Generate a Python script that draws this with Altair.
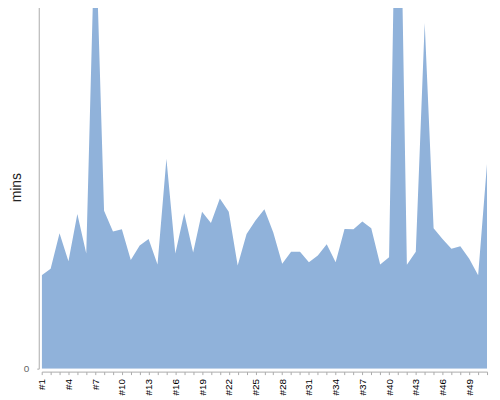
import altair as alt
import pandas as pd

runs = [f"#{i}" for i in range(1, 52)]
mins = [25.7, 27.5, 37.3, 29.6, 42.6, 31.7, 125.0, 43.5, 37.8, 38.4,
        29.9, 33.9, 35.7, 28.7, 57.8, 31.7, 42.8, 32.0, 43.2, 40.1,
        46.9, 43.2, 28.4, 37.1, 40.8, 43.9, 37.5, 28.9, 32.2, 32.2,
        29.3, 31.2, 34.3, 29.3, 38.5, 38.4, 40.5, 38.7, 28.7, 30.7,
        175.0, 28.6, 32.2, 95.2, 38.7, 35.7, 33.0, 33.7, 30.3, 25.7,
        56.5]

df = pd.DataFrame({"run": runs, "mins": mins})

chart = alt.Chart(df).mark_area(color="#90b2da", clip=True, opacity=1).encode(
    x=alt.X("run:O", sort=runs,
            scale=alt.Scale(type="point", padding=0),
            axis=alt.Axis(title=None, labelAngle=-90, offset=3, tickSize=3,
                          labelPadding=4, labelFontSize=10, labelColor="#000",
                          labelFont="Liberation Sans",
                          domainColor="#aaa", tickColor="#aaa",
                          labelExpr="(parseInt(slice(datum.value, 1)) - 1) % 3 == 0 ? datum.value : ''")),
    y=alt.Y("mins:Q", scale=alt.Scale(domain=[0, 100], nice=False),
            axis=alt.Axis(title="mins", values=[0], grid=False, offset=3,
                          tickSize=2, labelPadding=8, labelFontSize=10,
                          labelColor="#666", labelFont="Liberation Sans",
                          titleFont="Liberation Sans", titleFontSize=14,
                          titleFontWeight="normal", titleColor="#222",
                          titlePadding=0,
                          domainColor="#aaa", tickColor="#aaa")),
).properties(
    width=449, height=366,
    padding={"top": -4, "left": 34, "right": 5, "bottom": 30},
    autosize=alt.AutoSizeParams(type="none"),
).configure_view(stroke=None)

chart.save("out.html", embed_options={"renderer": "svg", "actions": False})
